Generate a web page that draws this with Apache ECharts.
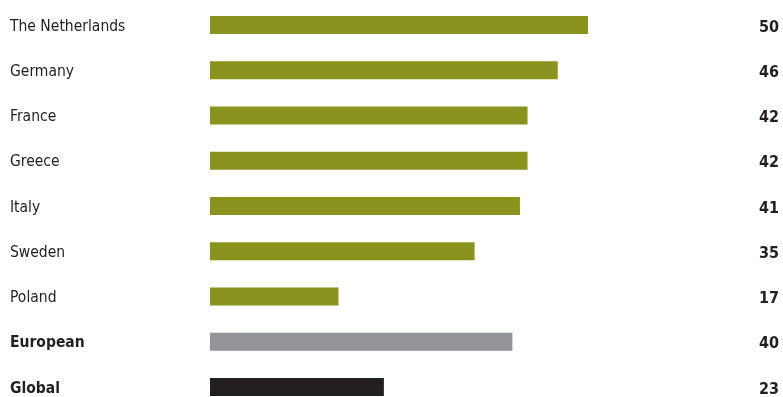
<!DOCTYPE html>
<html>
<head>
<meta charset="utf-8">
<script src="https://cdn.jsdelivr.net/npm/echarts@6/dist/echarts.min.js"></script>
<style>
  html, body { margin: 0; padding: 0; background: #ffffff; overflow: hidden; }
  #chart { width: 783px; height: 410px; }
</style>
</head>
<body>
<div id="chart"></div>
<script>
// Categories listed top to bottom
const categories = ['The Netherlands', 'Germany', 'France', 'Greece', 'Italy', 'Sweden', 'Poland', 'European', 'Global'];
const values = [50, 46, 42, 42, 41, 35, 17, 40, 23];
// Summary rows are drawn in bold
const boldRows = ['European', 'Global'];

const OLIVE = '#8b931f';
const GREY = '#939598';
const BLACK = '#231f20';
const TEXT = '#231f20';
const FONT = "'DejaVu Sans Condensed', 'Liberation Sans', sans-serif";

function barColor(name) {
  if (name === 'European') return GREY;
  if (name === 'Global') return BLACK;
  return OLIVE;
}

const chart = echarts.init(document.getElementById('chart'));

// ECharts category axes run bottom-up, so reverse for top-down order
const cats = categories.slice().reverse();
const vals = values.slice().reverse();

chart.setOption({
  animation: false,
  grid: { left: 210, top: 2.4, height: 407.25, right: 195, containLabel: false },
  xAxis: {
    type: 'value', min: 0, max: 50,
    show: false
  },
  yAxis: [
    {
      type: 'category',
      data: cats,
      position: 'left',
      axisLine: { show: false },
      axisTick: { show: false },
      axisLabel: {
        margin: 200,
        align: 'left',
        fontFamily: FONT,
        fontSize: 15.5,
        color: TEXT,
        formatter: function (v) {
          return boldRows.indexOf(v) >= 0 ? '{b|' + v + '}' : '{n|' + v + '}';
        },
        rich: {
          n: { fontFamily: FONT, fontSize: 15.5, color: TEXT, padding: [3, 0, 0, 0] },
          b: { fontWeight: 'bold', fontFamily: FONT, fontSize: 15.5, color: TEXT, padding: [3, 0, 0, 0] }
        }
      }
    },
    {
      type: 'category',
      data: vals.map(String),
      position: 'right',
      axisLine: { show: false },
      axisTick: { show: false },
      axisLabel: {
        margin: 191,
        align: 'right',
        fontFamily: FONT,
        fontWeight: 'bold',
        fontSize: 16,
        color: TEXT,
        formatter: function (v) { return '{v|' + v + '}'; },
        rich: {
          v: { fontFamily: FONT, fontWeight: 'bold', fontSize: 16, color: TEXT, padding: [5, 0, 0, 0] }
        }
      }
    }
  ],
  series: [{
    type: 'bar',
    yAxisIndex: 0,
    barWidth: 18,
    data: vals.map(function (v, i) {
      return { value: v, itemStyle: { color: barColor(cats[i]) } };
    })
  }]
});
</script>
</body>
</html>
